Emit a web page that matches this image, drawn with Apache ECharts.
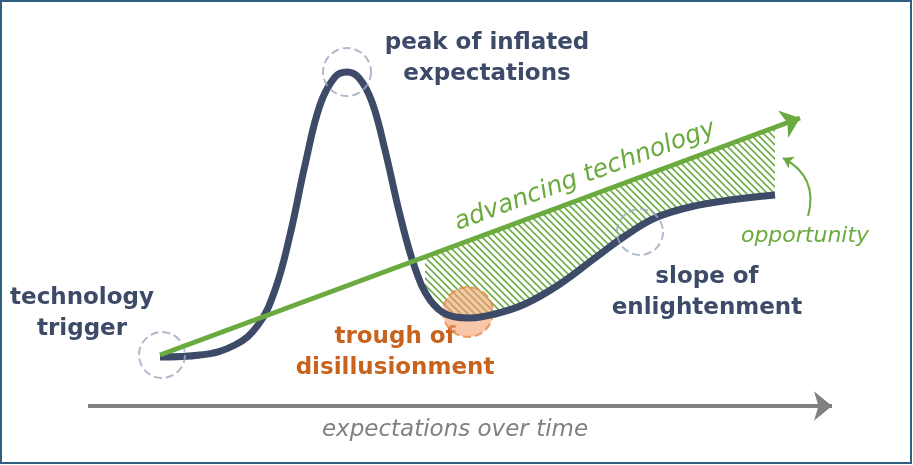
<!DOCTYPE html>
<html><head><meta charset="utf-8">
<script src="https://cdn.jsdelivr.net/npm/echarts@6/dist/echarts.min.js"></script>
<style>html,body{margin:0;background:#fff}#c{width:913px;height:465px}</style>
</head><body><div id="c"></div>
<script>
// hype curve, read in picture coordinates (x right, y down)
var curveX = [160, 200, 235, 258, 275, 290, 305, 320, 335, 347, 359, 372, 385, 400, 415, 430, 448, 470, 495, 525, 560, 595, 625, 655, 690, 730, 775];
var curveY = [357, 355, 345, 325, 290, 235, 165, 105, 77, 72, 78, 102, 150, 215, 268, 300, 315, 318, 314, 304, 284, 258, 236, 218, 207, 200, 195];
// hatched gap between the trend line and the curve
var gapX = [425, 435, 448, 460, 470, 485, 495, 510, 525, 545, 560, 580, 595, 610, 625, 640, 655, 670, 690, 710, 730, 755, 775];
var gapCurve = [290, 306, 315, 318, 318, 316, 314, 309, 304, 295, 284, 270, 258, 247, 236, 226, 218, 212, 207, 203, 200, 197, 195];
var trendStart = [160, 355];
var trendEnd = [800, 118];
var timeStart = [88, 406];
var timeEnd = [832, 406];
// dashed markers: x, y, diameter
var markers = [[162, 355, 46], [347, 72, 48], [640, 232, 46]];
var trough = [[468, 312, 50]];

function trendAt(x) {
    return trendStart[1] + (trendEnd[1] - trendStart[1]) * (x - trendStart[0]) / (trendEnd[0] - trendStart[0]);
}

var hatch = document.createElement('canvas');
hatch.width = 7; hatch.height = 7;
var hc = hatch.getContext('2d');
hc.strokeStyle = '#6fae45'; hc.lineWidth = 1.6;
hc.beginPath(); hc.moveTo(-1, -1); hc.lineTo(8, 8); hc.moveTo(-8, -1); hc.lineTo(1, 8); hc.moveTo(6, -1); hc.lineTo(15, 8); hc.stroke();

var navy = '#3d4a68', green = '#6aaa3e', orange = '#c8631e', grey = '#808080';
var font = '"DejaVu Sans", sans-serif';

var chart = echarts.init(document.getElementById('c'));
chart.setOption({
    animation: false,
    grid: { left: 0, right: 0, top: 0, bottom: 0 },
    xAxis: { type: 'value', min: 0, max: 913, show: false },
    yAxis: { type: 'value', min: 0, max: 465, inverse: true, show: false },
    graphic: [
        { type: 'rect', shape: { x: 1, y: 1, width: 910, height: 462 }, style: { fill: 'none', stroke: '#2f5f80', lineWidth: 2 } },
        { type: 'text', x: 487, y: 28, style: { text: 'peak of inflated\nexpectations', align: 'center', fill: navy, font: 'bold 23px ' + font, lineHeight: 31 } },
        { type: 'text', x: 82, y: 283, style: { text: 'technology\ntrigger', align: 'center', fill: navy, font: 'bold 23px ' + font, lineHeight: 31 } },
        { type: 'text', x: 395, y: 322, style: { text: 'trough of\ndisillusionment', align: 'center', fill: orange, font: 'bold 23px ' + font, lineHeight: 31 } },
        { type: 'text', x: 707, y: 262, style: { text: 'slope of\nenlightenment', align: 'center', fill: navy, font: 'bold 23px ' + font, lineHeight: 31 } },
        { type: 'text', x: 585, y: 176, rotation: 20.3 * Math.PI / 180, style: { text: 'advancing technology', align: 'center', verticalAlign: 'middle', fill: green, font: 'italic 25px ' + font } },
        { type: 'text', x: 805, y: 236, style: { text: 'opportunity', align: 'center', verticalAlign: 'middle', fill: green, font: 'italic 22px ' + font } },
        { type: 'text', x: 455, y: 430, style: { text: 'expectations over time', align: 'center', verticalAlign: 'middle', fill: grey, font: 'italic 23px ' + font } }
    ],
    series: [
        { type: 'custom', data: [0], z: 1, silent: true,
          renderItem: function (params, api) {
              var pts = gapX.map(function (x) { return api.coord([x, trendAt(x)]); });
              for (var i = gapX.length - 1; i >= 0; i--) pts.push(api.coord([gapX[i], gapCurve[i]]));
              return { type: 'polygon', shape: { points: pts }, style: { fill: { image: hatch, repeat: 'repeat' } } };
          } },
        { type: 'scatter', data: trough.map(function (m) { return [m[0], m[1]]; }), symbolSize: trough[0][2],
          itemStyle: { color: 'rgba(244,160,110,0.75)', borderColor: '#e58a4a', borderType: 'dashed', borderWidth: 2 }, z: 2 },
        { type: 'line', data: curveX.map(function (x, i) { return [x, curveY[i]]; }), smooth: 0.4, symbol: 'none',
          lineStyle: { color: navy, width: 7 }, z: 3,
          markLine: { silent: true, symbol: ['none', 'arrow'], symbolSize: [22, 18], label: { show: false },
              data: [
                  [{ coord: trendStart, lineStyle: { color: green, width: 5, type: 'solid' } }, { coord: trendEnd }],
                  [{ coord: timeStart, lineStyle: { color: grey, width: 4, type: 'solid' } }, { coord: timeEnd }]
              ] } },
        { type: 'scatter', data: markers.map(function (m) { return { value: [m[0], m[1]], symbolSize: m[2] }; }),
          itemStyle: { color: 'rgba(255,255,255,0)', borderColor: '#9aa8bf', borderType: 'dashed', borderWidth: 2 }, z: 4 },
        { type: 'lines', coordinateSystem: 'cartesian2d', data: [{ coords: [[808, 216], [783, 158]] }],
          symbol: ['none', 'arrow'], symbolSize: 10, lineStyle: { color: green, width: 2, curveness: -0.4, opacity: 1 }, z: 4 }
    ]
});
</script></body></html>
